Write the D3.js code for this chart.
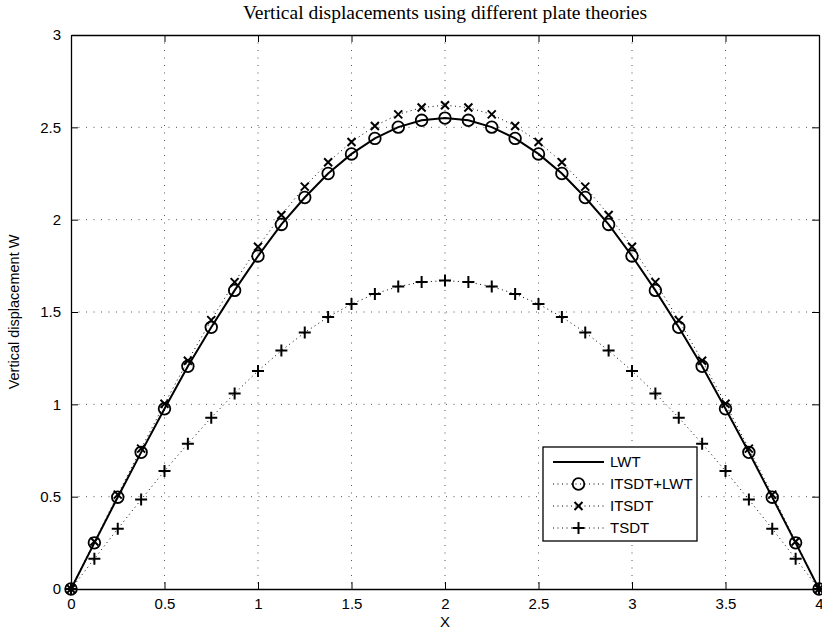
<!DOCTYPE html>
<html><head><meta charset="utf-8">
<script src="https://cdn.jsdelivr.net/npm/d3@7"></script>
<style>body{margin:0;background:#fff}</style>
</head><body>
<svg id="c" width="822" height="632"></svg>
<script>
const xs = [0,0.125,0.25,0.375,0.5,0.625,0.75,0.875,1,1.125,1.25,1.375,1.5,1.625,1.75,1.875,2,2.125,2.25,2.375,2.5,2.625,2.75,2.875,3,3.125,3.25,3.375,3.5,3.625,3.75,3.875,4];
const lwt = [0,0.25,0.497,0.74,0.976,1.206,1.417,1.617,1.803,1.974,2.12,2.25,2.356,2.44,2.501,2.538,2.55,2.538,2.501,2.44,2.356,2.25,2.12,1.974,1.803,1.617,1.417,1.206,0.976,0.74,0.497,0.25,0];
const itsdtLwt = [0,0.25,0.497,0.74,0.976,1.206,1.417,1.617,1.803,1.974,2.12,2.25,2.356,2.44,2.501,2.538,2.55,2.538,2.501,2.44,2.356,2.25,2.12,1.974,1.803,1.617,1.417,1.206,0.976,0.74,0.497,0.25,0];
const itsdt = [0,0.257,0.511,0.76,1.003,1.236,1.456,1.662,1.853,2.025,2.179,2.311,2.421,2.507,2.57,2.607,2.62,2.607,2.57,2.507,2.421,2.311,2.179,2.025,1.853,1.662,1.456,1.236,1.003,0.76,0.511,0.257,0];
const tsdt = [0,0.164,0.326,0.484,0.639,0.787,0.928,1.059,1.181,1.291,1.389,1.473,1.543,1.598,1.638,1.662,1.67,1.662,1.638,1.598,1.543,1.473,1.389,1.291,1.181,1.059,0.928,0.787,0.639,0.484,0.326,0.164,0];
const xTicks = [0,0.5,1,1.5,2,2.5,3,3.5,4];
const yTicks = [0,0.5,1,1.5,2,2.5,3];
const seriesNames = ["LWT","ITSDT+LWT","ITSDT","TSDT"];

const L=71, R=819, T=35, B=589;
const svg = d3.select("#c");
const x = d3.scaleLinear().domain([0,4]).range([L,R]);
const y = d3.scaleLinear().domain([0,3]).range([B,T]);
const font = "'Liberation Sans', Arial, Helvetica, sans-serif";

// grid
const g = svg.append("g");
g.selectAll(".gx").data(xTicks.filter(d=>d>0&&d<4)).enter().append("line")
  .attr("x1",d=>x(d)).attr("x2",d=>x(d)).attr("y1",T).attr("y2",B)
  .attr("stroke","#555").attr("stroke-width",1).attr("stroke-dasharray","1,6.5");
g.selectAll(".gy").data(yTicks.filter(d=>d>0&&d<3)).enter().append("line")
  .attr("y1",d=>y(d)).attr("y2",d=>y(d)).attr("x1",L).attr("x2",R)
  .attr("stroke","#555").attr("stroke-width",1).attr("stroke-dasharray","1,6.5");

// axes
const fmt = d=>String(d);
const axB = svg.append("g").attr("transform",`translate(0,${B})`)
  .call(d3.axisBottom(x).tickValues(xTicks).tickFormat(fmt).tickSizeInner(-7).tickSizeOuter(0).tickPadding(9));
const axT = svg.append("g").attr("transform",`translate(0,${T})`)
  .call(d3.axisTop(x).tickValues(xTicks).tickFormat("").tickSizeInner(-7).tickSizeOuter(0));
const axL = svg.append("g").attr("transform",`translate(${L},0)`)
  .call(d3.axisLeft(y).tickValues(yTicks).tickFormat(fmt).tickSizeInner(-7).tickSizeOuter(0).tickPadding(10));
const axR = svg.append("g").attr("transform",`translate(${R},0)`)
  .call(d3.axisRight(y).tickValues(yTicks).tickFormat("").tickSizeInner(-7).tickSizeOuter(0));
[axB,axT,axL,axR].forEach(a=>{
  a.selectAll("path").attr("stroke","#000").attr("stroke-width",1.3);
  a.selectAll("line").attr("stroke","#000").attr("stroke-width",1);
  a.selectAll("text").attr("font-family",font).attr("font-size",15).attr("fill","#000");
});

const pts = vals => xs.map((v,i)=>[v,vals[i]]);
const line = d3.line().x(d=>x(d[0])).y(d=>y(d[1]));

// dotted lines
[itsdt, tsdt, itsdtLwt].forEach(v=>{
  svg.append("path").datum(pts(v)).attr("d",line).attr("fill","none")
    .attr("stroke","#000").attr("stroke-width",1).attr("stroke-dasharray","1,3.5");
});
// solid LWT
svg.append("path").datum(pts(lwt)).attr("d",line).attr("fill","none")
  .attr("stroke","#000").attr("stroke-width",2);

function marker(sel, type){
  if(type==="o"){
    sel.append("circle").attr("r",5.8).attr("fill","none").attr("stroke","#000").attr("stroke-width",1.8);
  } else if(type==="x"){
    sel.append("path").attr("d","M-4,-4L4,4M-4,4L4,-4").attr("stroke","#000").attr("stroke-width",2);
  } else {
    sel.append("path").attr("d","M-6,0L6,0M0,-6L0,6").attr("stroke","#000").attr("stroke-width",2);
  }
}
[[itsdtLwt,"o"],[itsdt,"x"],[tsdt,"+"]].forEach(([v,t])=>{
  svg.append("g").selectAll("g").data(pts(v)).enter().append("g")
    .attr("transform",d=>`translate(${x(d[0])},${y(d[1])})`)
    .each(function(){ marker(d3.select(this), t); });
});

// legend
const lg = svg.append("g");
const lx=543, ly=447, lw=154, lh=94;
lg.append("rect").attr("x",lx).attr("y",ly).attr("width",lw).attr("height",lh)
  .attr("fill","#fff").attr("stroke","#000").attr("stroke-width",1.3);
const types = ["-","o","x","+"];
seriesNames.forEach((n,i)=>{
  const cy = ly+15+i*22;
  const row = lg.append("g");
  if(i===0){
    row.append("line").attr("x1",lx+10).attr("x2",lx+61).attr("y1",cy).attr("y2",cy)
      .attr("stroke","#000").attr("stroke-width",2);
  } else {
    row.append("line").attr("x1",lx+10).attr("x2",lx+61).attr("y1",cy).attr("y2",cy)
      .attr("stroke","#000").attr("stroke-width",1).attr("stroke-dasharray","1,3.5");
    const m = row.append("g").attr("transform",`translate(${lx+35.5},${cy})`);
    marker(m, types[i]);
  }
  row.append("text").attr("x",lx+67).attr("y",cy).attr("dy","0.36em")
    .attr("font-family",font).attr("font-size",15).text(n);
});

// labels
svg.append("text").attr("x",(L+R)/2).attr("y",19).attr("text-anchor","middle")
  .attr("font-family","'Liberation Serif','Times New Roman',serif").attr("font-size",19.5)
  .text("Vertical displacements using different plate theories");
svg.append("text").attr("x",(L+R)/2).attr("y",627).attr("text-anchor","middle")
  .attr("font-family",font).attr("font-size",15).text("X");
svg.append("text").attr("transform",`translate(19,${(T+B)/2}) rotate(-90)`).attr("text-anchor","middle")
  .attr("font-family",font).attr("font-size",14.5).text("Vertical displacement W");
</script>
</body></html>
